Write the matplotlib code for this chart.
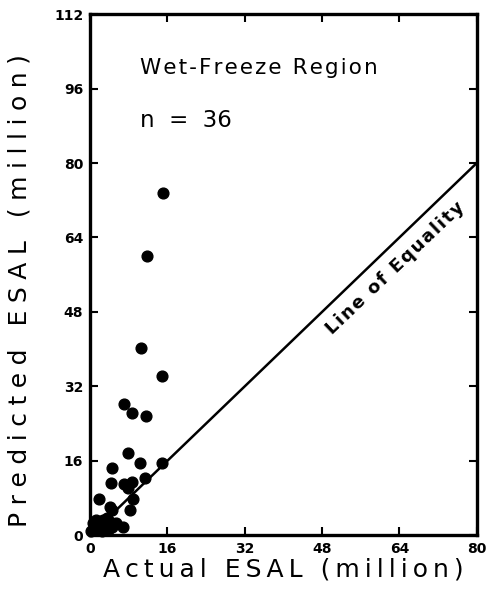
import matplotlib
matplotlib.use("Agg")
import matplotlib.pyplot as plt
import numpy as np

# actual vs predicted ESAL, million, wet-freeze region sections
actual = [15.1, 11.8, 10.5, 14.9, 7.0, 8.6, 11.6, 7.9, 10.3, 14.8,
          4.5, 4.3, 6.9, 8.6, 7.9, 11.4, 1.9, 8.9, 4.1, 4.5,
          8.3, 0.6, 2.7, 3.5, 2.1, 1.0, 4.5, 6.8, 3.7, 2.9,
          1.7, 5.4, 0.1, 2.5, 4.1, 1.2]
predicted = [73.5, 60.0, 40.2, 34.2, 28.2, 26.2, 25.6, 17.6, 15.5, 15.5,
             14.4, 11.2, 11.0, 11.4, 10.1, 12.3, 7.7, 7.7, 6.0, 5.4,
             5.4, 2.6, 3.2, 3.7, 1.7, 1.5, 1.7, 1.7, 1.1, 2.4,
             1.1, 2.6, 0.9, 0.9, 2.8, 3.2]

x_ticks = [0, 16, 32, 48, 64, 80]
y_ticks = [0, 16, 32, 48, 64, 80, 96, 112]


def spaced(s, sep):
    """ widen the letter spacing of a label """
    return sep.join(s)


fig = plt.figure(figsize=(4.9, 5.9), dpi=100)
ax = fig.add_axes([0.184, 0.093, 0.789, 0.883])

ax.scatter(actual, predicted, s=60, color='black', zorder=3, clip_on=False)
ax.plot([0, 80], [0, 80], color='black', lw=1.8)

ax.set_xlim(0, 80)
ax.set_ylim(0, 112)
ax.set_xticks(x_ticks)
ax.set_yticks(y_ticks)
ax.tick_params(direction='in', length=6, width=1.5, top=True, right=True,
               labelsize=10, pad=5)
for lab in ax.get_xticklabels() + ax.get_yticklabels():
    lab.set_fontweight('bold')
for sp in ax.spines.values():
    sp.set_linewidth(2.4)

ax.set_xlabel(spaced('Actual ESAL (million)', '\u2009'), fontsize=18, labelpad=1)
ax.set_ylabel(spaced('Predicted ESAL (million)', '\u2009\u200a'), fontsize=18)
ax.yaxis.set_label_coords(-0.152, 0.47)

ax.text(10.3, 100.4, spaced('Wet-Freeze Region', '\u200a'), fontsize=15.5, va='center')
ax.text(10.3, 89.2, 'n  =  36', fontsize=16.5, va='center')
ax.text(63.2, 57.4, spaced('Line of Equality', '\u200a'), fontsize=13, fontweight='bold',
        rotation=43.6, rotation_mode='anchor', ha='center', va='center')

fig.savefig('out.png', dpi=100)
